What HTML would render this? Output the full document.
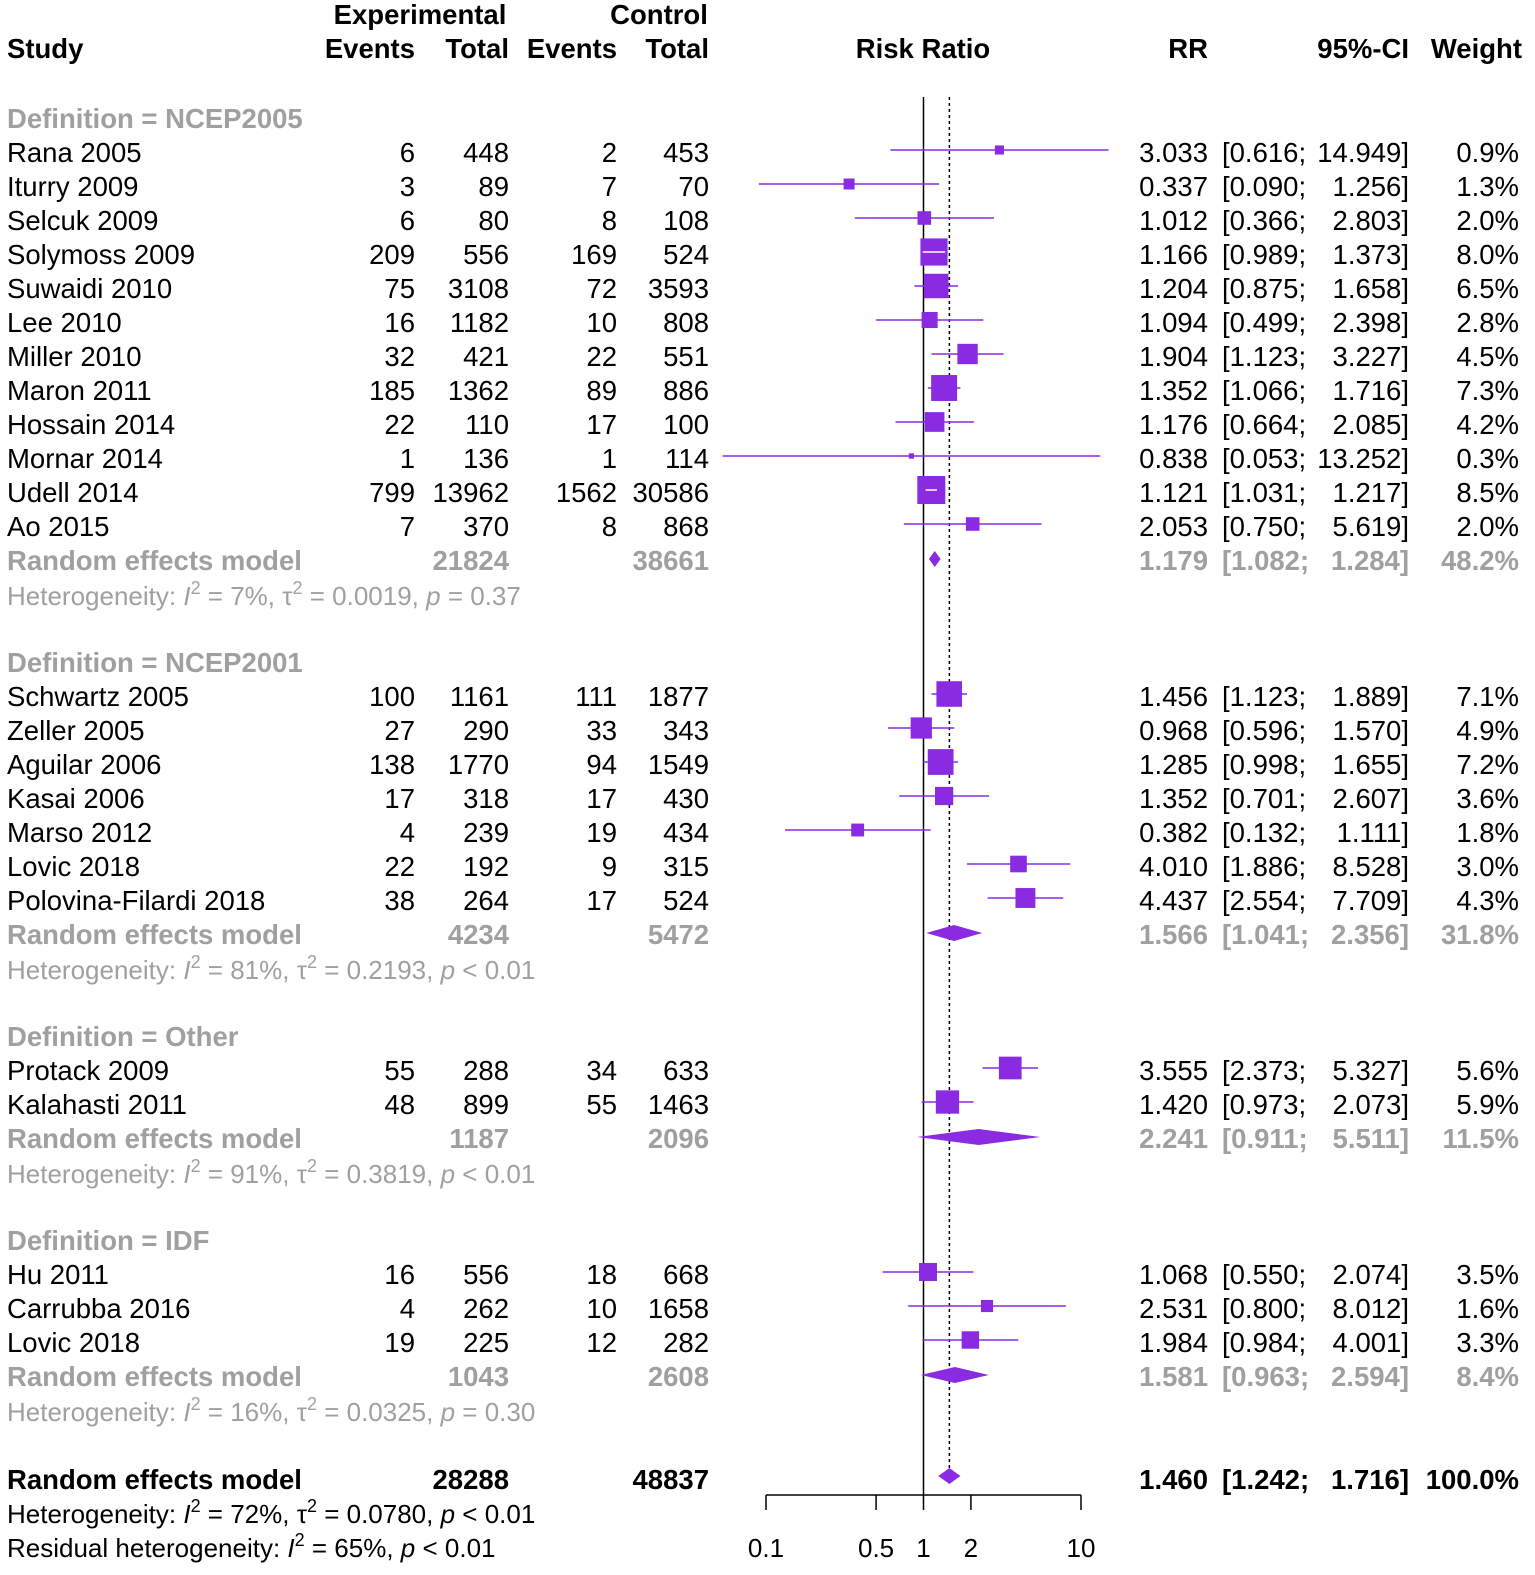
<!DOCTYPE html>
<html><head><meta charset="utf-8">
<style>
html,body{margin:0;padding:0;background:#fff;}
svg{display:block;font-family:"Liberation Sans",Arial,sans-serif;}
</style></head>
<body>
<svg id="plot" width="1535" height="1575" viewBox="0 0 1535 1575"></svg>
<script>
const groupLabels=["Definition = NCEP2005","Definition = NCEP2001","Definition = Other","Definition = IDF"];
const groupStartY=[118,662,1036,1240];
const studyNames=[["Rana 2005","Iturry 2009","Selcuk 2009","Solymoss 2009","Suwaidi 2010","Lee 2010","Miller 2010","Maron 2011","Hossain 2014","Mornar 2014","Udell 2014","Ao 2015"],
["Schwartz 2005","Zeller 2005","Aguilar 2006","Kasai 2006","Marso 2012","Lovic 2018","Polovina-Filardi 2018"],
["Protack 2009","Kalahasti 2011"],
["Hu 2011","Carrubba 2016","Lovic 2018"]];
const expEvents=[[6,3,6,209,75,16,32,185,22,1,799,7],[100,27,138,17,4,22,38],[55,48],[16,4,19]];
const expTotal=[[448,89,80,556,3108,1182,421,1362,110,136,13962,370],[1161,290,1770,318,239,192,264],[288,899],[556,262,225]];
const ctrlEvents=[[2,7,8,169,72,10,22,89,17,1,1562,8],[111,33,94,17,19,9,17],[34,55],[18,10,12]];
const ctrlTotal=[[453,70,108,524,3593,808,551,886,100,114,30586,868],[1877,343,1549,430,434,315,524],[633,1463],[668,1658,282]];
const rr=[[3.033,0.337,1.012,1.166,1.204,1.094,1.904,1.352,1.176,0.838,1.121,2.053],[1.456,0.968,1.285,1.352,0.382,4.010,4.437],[3.555,1.420],[1.068,2.531,1.984]];
const lo=[[0.616,0.090,0.366,0.989,0.875,0.499,1.123,1.066,0.664,0.053,1.031,0.750],[1.123,0.596,0.998,0.701,0.132,1.886,2.554],[2.373,0.973],[0.550,0.800,0.984]];
const hi=[[14.949,1.256,2.803,1.373,1.658,2.398,3.227,1.716,2.085,13.252,1.217,5.619],[1.889,1.570,1.655,2.607,1.111,8.528,7.709],[5.327,2.073],[2.074,8.012,4.001]];
const weight=[[0.9,1.3,2.0,8.0,6.5,2.8,4.5,7.3,4.2,0.3,8.5,2.0],[7.1,4.9,7.2,3.6,1.8,3.0,4.3],[5.6,5.9],[3.5,1.6,3.3]];
const subTotExp=[21824,4234,1187,1043];
const subTotCtrl=[38661,5472,2096,2608];
const subRR=[1.179,1.566,2.241,1.581];
const subLo=[1.082,1.041,0.911,0.963];
const subHi=[1.284,2.356,5.511,2.594];
const subW=["48.2%","31.8%","11.5%","8.4%"];
const subI2=["7%","81%","91%","16%"];
const subTau=["0.0019","0.2193","0.3819","0.0325"];
const subP=["= 0.37","< 0.01","< 0.01","= 0.30"];
const overall={rr:1.460,lo:1.242,hi:1.716,exp:28288,ctrl:48837};
const ticks=[0.1,0.5,1,2,10];

const NS="http://www.w3.org/2000/svg";
const svg=document.getElementById('plot');
const PURPLE="#8a2be2",GRAY="#a0a0a0";
const FS=27.5;
const x0=923.5,dec=157.5;
function X(v){return x0+dec*Math.log10(v);}
function el(tag,attrs,parent){const e=document.createElementNS(NS,tag);for(const k in attrs)e.setAttribute(k,attrs[k]);(parent||svg).appendChild(e);return e;}
function txt(s,x,y,o){o=o||{};const t=el('text',{x:x,y:y,'font-size':o.size||FS,fill:o.fill||'#000','text-anchor':o.anchor||'start','font-weight':o.bold?'bold':'normal'});t.textContent=s;return t;}
function fmt(v){return v.toFixed(3);}
function ciCols(l,h,y,o,nm){
  const a=txt("["+fmt(l)+";",1222,y,o);
  const b=txt(fmt(h)+"]",1409,y,Object.assign({},o,{anchor:'end'}));
}
let h;
h=txt("Experimental",420,24,{bold:1,anchor:'middle'});
h=txt("Control",659,24,{bold:1,anchor:'middle'});
const hdrs=[["Study",7,'start'],["Events",415,'end'],["Total",509,'end'],["Events",617,'end'],["Total",709,'end'],["Risk Ratio",923,'middle'],["RR",1208,'end'],["95%-CI",1409,'end'],["Weight",1522,'end']];
hdrs.forEach(d=>{const t=txt(d[0],d[1],58,{bold:1,anchor:d[2]});});
let ln=el('line',{x1:x0,y1:97,x2:x0,y2:1495,stroke:'#000','stroke-width':1.5});

ln=el('line',{x1:X(overall.rr),y1:97,x2:X(overall.rr),y2:1470,stroke:'#000','stroke-width':1.5,'stroke-dasharray':'3,3'});

function het(y,i2,tau,p,fill,prefix){
  const t=el('text',{x:7,y:y,'font-size':26,fill:fill});
  
  t.innerHTML=(prefix||"Heterogeneity: ")+'<tspan font-style="italic">I</tspan><tspan dy="-11" font-size="18">2</tspan><tspan dy="11"> = '+i2+(tau!==null?', τ</tspan><tspan dy="-11" font-size="18">2</tspan><tspan dy="11"> = '+tau:'')+', </tspan><tspan font-style="italic">p</tspan><tspan> '+p+'</tspan>';
}
function diamond(r,l,hh,cy,nm){
  const d=el('polygon',{points:`${X(l)},${cy} ${X(r)},${cy-8} ${X(hh)},${cy} ${X(r)},${cy+8}`,fill:PURPLE});
  
}
const pitch=34;
groupLabels.forEach((g,gi)=>{
  let y=groupStartY[gi];
  let t=txt(g,7,y+10,{bold:1,fill:GRAY});
  studyNames[gi].forEach((n,i)=>{
    y+=pitch;const by=y+10,cy=y-2;
    t=txt(n,7,by);
    t=txt(String(expEvents[gi][i]),415,by,{anchor:'end'});
    t=txt(String(expTotal[gi][i]),509,by,{anchor:'end'});
    t=txt(String(ctrlEvents[gi][i]),617,by,{anchor:'end'});
    t=txt(String(ctrlTotal[gi][i]),709,by,{anchor:'end'});
    t=txt(fmt(rr[gi][i]),1208,by,{anchor:'end'});
    ciCols(lo[gi][i],hi[gi][i],by,{},'study');
    t=txt(weight[gi][i].toFixed(1)+"%",1519,by,{anchor:'end'});
    const xl=X(lo[gi][i]),xh=X(hi[gi][i]),xc=X(rr[gi][i]);
    const s=9.6*Math.sqrt(weight[gi][i]);
    let l=el('line',{x1:xl,y1:cy,x2:xh,y2:cy,stroke:PURPLE,'stroke-width':1.5});
    const sq=el('rect',{x:xc-s/2,y:cy-s/2,width:s,height:s,fill:PURPLE});
    if(xl>xc-s/2&&xh<xc+s/2){l=el('line',{x1:xl,y1:cy,x2:xh,y2:cy,stroke:'#fff','stroke-width':1.5});}
  });
  y+=pitch;const by=y+10;
  t=txt("Random effects model",7,by,{bold:1,fill:GRAY});
  t=txt(String(subTotExp[gi]),509,by,{bold:1,fill:GRAY,anchor:'end'});
  t=txt(String(subTotCtrl[gi]),709,by,{bold:1,fill:GRAY,anchor:'end'});
  t=txt(fmt(subRR[gi]),1208,by,{bold:1,fill:GRAY,anchor:'end'});
  ciCols(subLo[gi],subHi[gi],by,{bold:1,fill:GRAY},'subgroup');
  t=txt(subW[gi],1519,by,{bold:1,fill:GRAY,anchor:'end'});
  diamond(subRR[gi],subLo[gi],subHi[gi],y-1,'subgroup-diamond');
  het(y+45,subI2[gi],subTau[gi],subP[gi],GRAY);
});
let t;
t=txt("Random effects model",7,1489,{bold:1});
t=txt(String(overall.exp),509,1489,{bold:1,anchor:'end'});
t=txt(String(overall.ctrl),709,1489,{bold:1,anchor:'end'});
t=txt(fmt(overall.rr),1208,1489,{bold:1,anchor:'end'});
ciCols(overall.lo,overall.hi,1489,{bold:1},'overall');
t=txt("100.0%",1519,1489,{bold:1,anchor:'end'});
diamond(overall.rr,overall.lo,overall.hi,1476,'overall-diamond');
het(1523,"72%","0.0780","< 0.01","#000");
het(1557,"65%",null,"< 0.01","#000","Residual heterogeneity: ");
const ax=el('line',{x1:X(0.1),y1:1495,x2:X(10),y2:1495,stroke:'#000','stroke-width':1.5});

ticks.forEach(v=>{
  const tk=el('line',{x1:X(v),y1:1495,x2:X(v),y2:1510,stroke:'#000','stroke-width':1.5});
  
  const lb=txt(String(v),X(v),1557,{anchor:'middle',size:26});
  
});
</script>
</body></html>
